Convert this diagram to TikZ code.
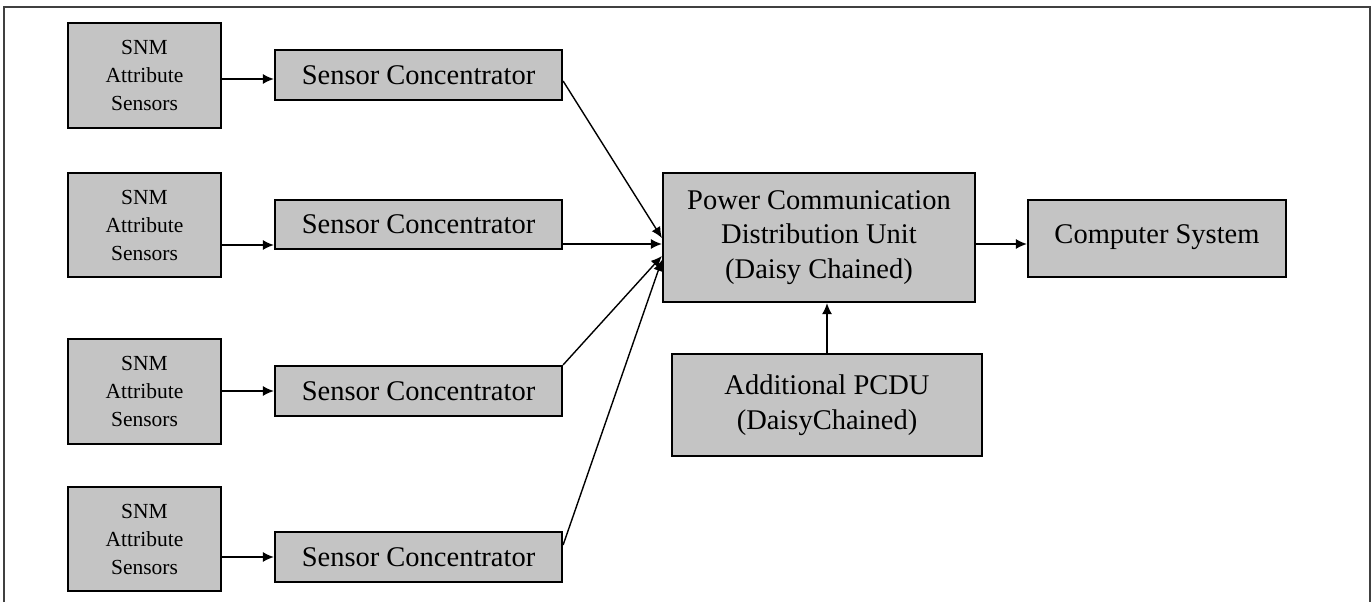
\documentclass[tikz,border=0pt]{standalone}
\usepackage{fontspec}
\setmainfont{Liberation Serif}
\usetikzlibrary{arrows.meta}
\definecolor{boxgray}{RGB}{196,196,196}
\begin{document}
\begin{tikzpicture}[x=1pt,y=-1pt,
  box/.style={draw=black, line width=2.2pt, fill=boxgray, inner sep=0pt, align=center},
  big/.style={font=\fontsize{28.5}{34.5}\selectfont},
  small/.style={font=\fontsize{21.5}{28}\selectfont},
  arr/.style={line width=1.4pt, -{Latex[length=11pt,width=10pt]}}]
\useasboundingbox (0,0) rectangle (1372,602);
\draw[line width=1.8pt, draw=black!75] (4,602) -- (4,7) -- (1370,7) -- (1370,602);

% SNM sensor boxes
\node[box, small, minimum width=153pt, minimum height=105pt] (snm1) at (144.5,75.5) {SNM\\Attribute\\Sensors};
\node[box, small, minimum width=153pt, minimum height=104pt] (snm2) at (144.5,225) {SNM\\Attribute\\Sensors};
\node[box, small, minimum width=153pt, minimum height=105pt] (snm3) at (144.5,391.5) {SNM\\Attribute\\Sensors};
\node[box, small, minimum width=153pt, minimum height=104pt] (snm4) at (144.5,539) {SNM\\Attribute\\Sensors};

% Sensor concentrators
\node[box, big, minimum width=287pt, minimum height=50pt] (sc1) at (418.5,75) {Sensor Concentrator};
\node[box, big, minimum width=287pt, minimum height=49pt] (sc2) at (418.5,224.5) {Sensor Concentrator};
\node[box, big, minimum width=287pt, minimum height=50pt] (sc3) at (418.5,391) {Sensor Concentrator};
\node[box, big, minimum width=287pt, minimum height=50pt] (sc4) at (418.5,557) {Sensor Concentrator};

% PCDU, computer, additional
\node[box, big, minimum width=312pt, minimum height=129pt] (pcdu) at (819,237.5) {Power Communication\\Distribution Unit\\(Daisy Chained)};
\node[box, minimum width=258pt, minimum height=77pt,
  label={[big, anchor=base, yshift=1.5pt]center:Computer System}] (cs) at (1157,238.5) {};
\node[box, big, minimum width=310pt, minimum height=102pt] (add) at (827,405) {Additional PCDU\\(DaisyChained)};

% connectors
\draw[arr] ([yshift=-3.5pt]snm1.east) -- ([yshift=-4pt]sc1.west);
\draw[arr] ([yshift=-20pt]snm2.east) -- ([yshift=-20.5pt]sc2.west);
\draw[arr] ([yshift=0.5pt]snm3.east) -- (sc3.west);
\draw[arr] ([yshift=-18pt]snm4.east) -- (sc4.west);

\draw[arr] ([yshift=-6pt]sc1.east) -- ([yshift=-0.5pt]pcdu.west);
\draw[arr] ([yshift=-19.5pt]sc2.east) -- ([yshift=-6.5pt]pcdu.west);
\draw[arr] (sc3.north east) -- ([yshift=-18.5pt]pcdu.west);
\draw[arr] ([yshift=12pt]sc4.east) -- ([yshift=-22.5pt]pcdu.west);

\draw[arr] ([yshift=-6.5pt]pcdu.east) -- ([yshift=-5.5pt]cs.west);
\draw[arr] (add.north) -- (add.north |- pcdu.south);
\end{tikzpicture}
\end{document}
